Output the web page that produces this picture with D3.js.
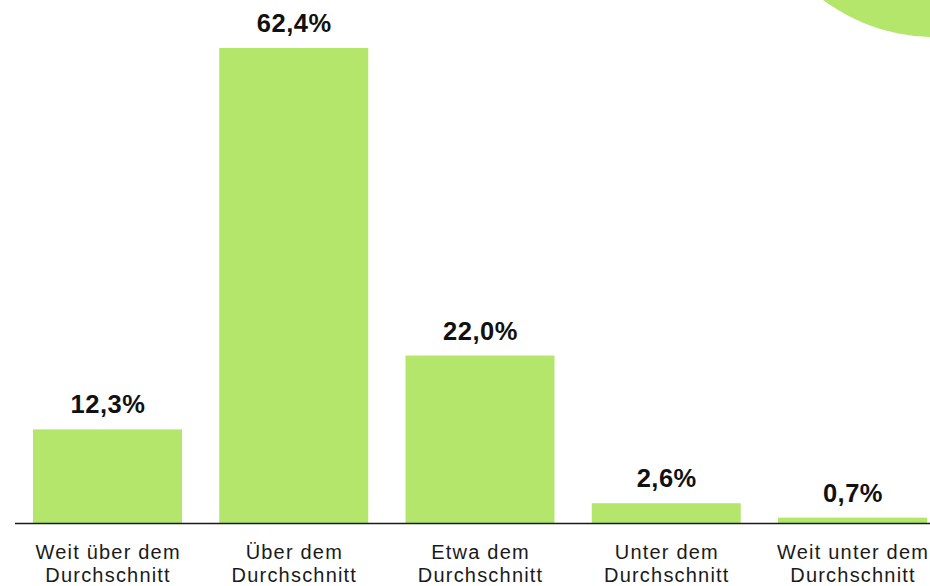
<!DOCTYPE html>
<html><head><meta charset="utf-8">
<script src="https://cdn.jsdelivr.net/npm/d3@7"></script>
<style>html,body{margin:0;padding:0;background:#fff;overflow:hidden}</style>
</head><body>
<svg id="c" width="930" height="586"></svg>
<script>
const categories = [["Weit über dem","Durchschnitt"],["Über dem","Durchschnitt"],["Etwa dem","Durchschnitt"],["Unter dem","Durchschnitt"],["Weit unter dem","Durchschnitt"]];
const values = [12.3, 62.4, 22.0, 2.6, 0.7];
const valueLabels = ["12,3%","62,4%","22,0%","2,6%","0,7%"];

const svg = d3.select("#c");
const green = "#b3e66b";

// decorative circle in top-right
svg.append("circle").attr("cx", 935).attr("cy", -151).attr("r", 188).attr("fill", green);

const idx = d3.range(values.length);
const x = d3.scaleBand().domain(idx).range([14.4, 945.6]).paddingInner(0.2).paddingOuter(0.1);
const y = d3.scaleLinear().domain([0, 62.4]).range([523, 48]);

svg.selectAll("rect.bar").data(idx).join("rect").attr("class","bar")
  .attr("x", i => x(i)).attr("width", x.bandwidth())
  .attr("y", i => y(values[i])).attr("height", i => y(0) - y(values[i]))
  .attr("fill", green);

svg.append("line").attr("x1", 15).attr("x2", 930).attr("y1", y(0)+0.5).attr("y2", y(0)+0.5)
  .attr("stroke", "#1a1a1a").attr("stroke-width", 1.3);

svg.selectAll("text.val").data(idx).join("text").attr("class","val")
  .attr("x", i => x(i) + x.bandwidth()/2 + 0.5).attr("y", i => y(values[i]) - 16)
  .attr("text-anchor","middle").attr("font-family","'Liberation Sans', Arial, sans-serif")
  .attr("font-weight","bold").attr("font-size", 25.5).attr("letter-spacing", "0.5px")
  .attr("fill","#111").text(i => valueLabels[i]);

const lab = svg.selectAll("text.cat").data(idx).join("text").attr("class","cat")
  .attr("text-anchor","middle").attr("font-family","'Liberation Sans', Arial, sans-serif")
  .attr("font-size", 20).attr("letter-spacing","1.2px").attr("fill","#1a1a1a");
lab.each(function(i){
  const t = d3.select(this);
  categories[i].forEach((line, k) => {
    t.append("tspan").attr("x", x(i) + x.bandwidth()/2 + 0.6).attr("y", 559 + k*23).text(line);
  });
});
</script>
</body></html>
